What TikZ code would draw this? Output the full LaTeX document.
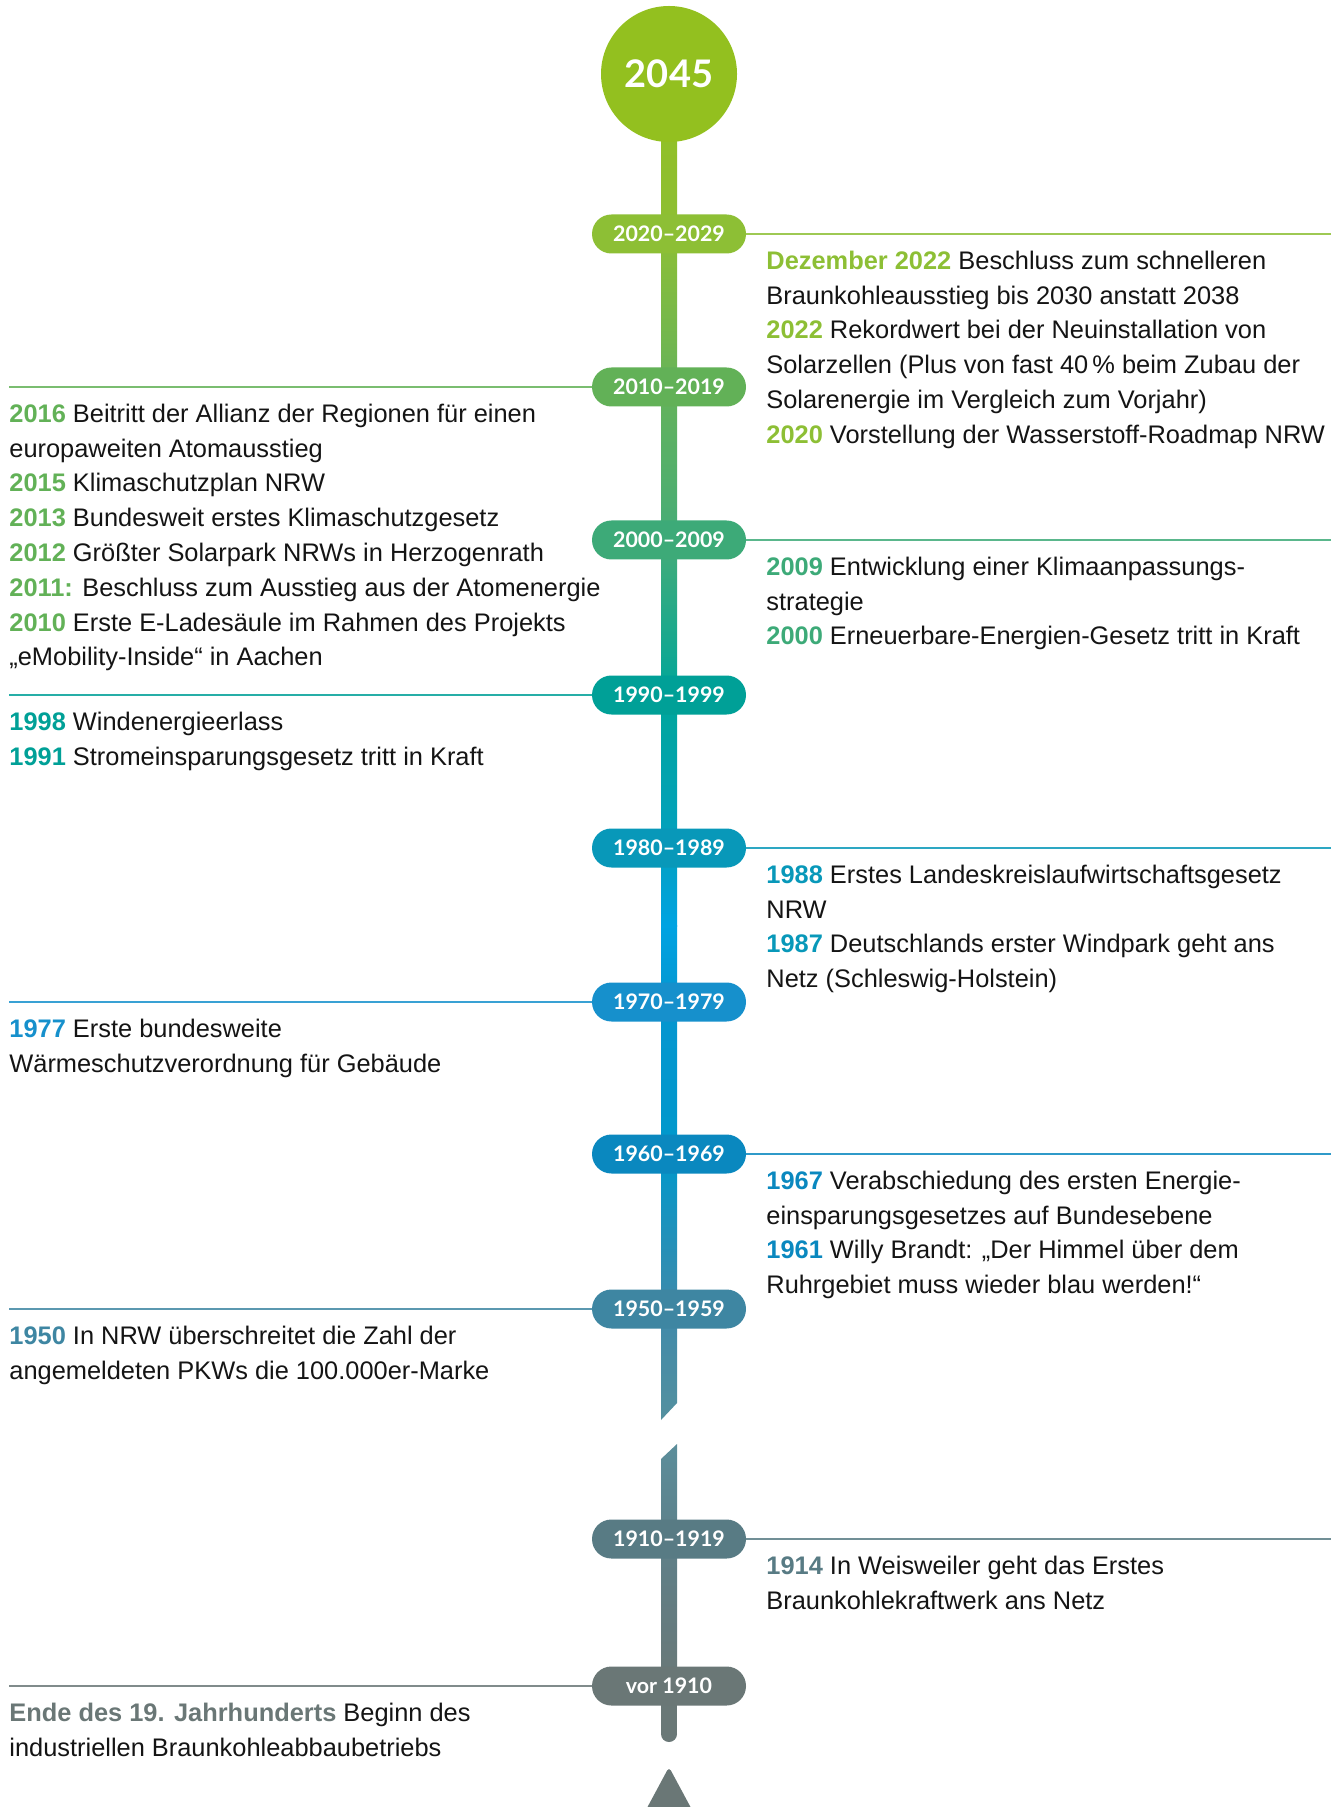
\documentclass[tikz,border=0pt]{standalone}
\usepackage{fontspec}
\setmainfont{Liberation Sans}
\newfontfamily\pillfont{Lato}
\usetikzlibrary{calc}

% decade colours
\definecolor{cA}{HTML}{93C01F}
\definecolor{cB}{HTML}{8DBF35}
\definecolor{cC}{HTML}{62B157}
\definecolor{cD}{HTML}{3DAA78}
\definecolor{cE}{HTML}{00A097}
\definecolor{cF}{HTML}{0898B9}
\definecolor{cG}{HTML}{1690CC}
\definecolor{cH}{HTML}{0A88BF}
\definecolor{cI}{HTML}{3E86A2}
\definecolor{cJ}{HTML}{587B84}
\definecolor{cK}{HTML}{6A7776}
\definecolor{ink}{HTML}{141414}
% stem gradient stops
\definecolor{s0}{HTML}{93C01F}
\definecolor{s1}{HTML}{8DBF35}
\definecolor{s2}{HTML}{66B35A}
\definecolor{s3}{HTML}{45AC78}
\definecolor{s4}{HTML}{00A69A}
\definecolor{s5}{HTML}{03A0C0}
\definecolor{s6}{HTML}{00A3E2}
\definecolor{s7}{HTML}{0596D0}
\definecolor{s8}{HTML}{0098CB}
\definecolor{s9}{HTML}{3F8AAA}
\definecolor{s10}{HTML}{54909F}
\definecolor{s11}{HTML}{5C8E9B}
\definecolor{s12}{HTML}{5E8089}
\definecolor{s13}{HTML}{6A7877}

\newcommand\yr[2]{{\bfseries\color{#1}#2}}

\tikzset{
  pill/.style={fill=#1, rounded corners=9.7pt, minimum width=77pt, minimum height=19.5pt,
    inner sep=0pt, text=white, font=\pillfont\bfseries\fontsize{10.7}{12}\selectfont},
  leader/.style={draw=#1!85, line width=0.75pt},
  entry/.style={anchor=north west, inner sep=0pt, align=left, text=ink,
    font=\fontsize{12.7}{17.4}\selectfont},
}

\begin{document}
\begin{tikzpicture}[x=0.5pt, y=-0.5pt]
  \useasboundingbox (0,0) rectangle (1340,1807);
  \coordinate (leftedge) at (9,0);
  \coordinate (rightedge) at (1331,0);

  %%%%% STEM %%%%%
  \foreach \ya/\yb/\ca/\cb in {74/235/s0/s1, 234/388/s1/s2, 387/541/s2/s3, 540/696/s3/s4,
      695/849/s4/s5, 848/926/s5/s6, 925/1003/s6/s7, 1002/1155/s7/s8, 1154/1310/s8/s9}
    \shade[top color=\ca, bottom color=\cb] (661,\ya) rectangle (677,\yb);
  \shade[top color=s9, bottom color=s10] (661,1309) -- (677,1309) -- (677,1403) -- (661,1420) -- cycle;
  \shade[top color=s11, bottom color=s12] (661,1459) -- (677,1444) -- (677,1540) -- (661,1540) -- cycle;
  \shade[top color=s12, bottom color=s13] (661,1539) rectangle (677,1687);
  \fill[s13] (661,1686) rectangle (677,1734);
  \fill[s13] (669,1734) circle (8);

  % arrow head at the bottom
  \fill[cK, rounded corners=2pt] (669,1767) -- (697.5,1820) -- (640.5,1820) -- cycle;

  %%%%% DECADES %%%%%
  \node[pill=cB] (p2020) at (669,234) {2020–2029};
  \node[pill=cC] (p2010) at (669,387) {2010–2019};
  \node[pill=cD] (p2000) at (669,540) {2000–2009};
  \node[pill=cE] (p1990) at (669,695) {1990–1999};
  \node[pill=cF] (p1980) at (669,848) {1980–1989};
  \node[pill=cG] (p1970) at (669,1002) {1970–1979};
  \node[pill=cH] (p1960) at (669,1154) {1960–1969};
  \node[pill=cI] (p1950) at (669,1309) {1950–1959};
  \node[pill=cJ] (p1910) at (669,1539) {1910–1919};
  \node[pill=cK] (p1900) at (669,1686) {vor 1910};

  \draw[leader=cB] (p2020.east) -- (p2020.east -| rightedge);
  \draw[leader=cC] (p2010.west) -- (p2010.west -| leftedge);
  \draw[leader=cD] (p2000.east) -- (p2000.east -| rightedge);
  \draw[leader=cE] (p1990.west) -- (p1990.west -| leftedge);
  \draw[leader=cF] (p1980.east) -- (p1980.east -| rightedge);
  \draw[leader=cG] (p1970.west) -- (p1970.west -| leftedge);
  \draw[leader=cH] (p1960.east) -- (p1960.east -| rightedge);
  \draw[leader=cI] (p1950.west) -- (p1950.west -| leftedge);
  \draw[leader=cJ] (p1910.east) -- (p1910.east -| rightedge);
  \draw[leader=cK] (p1900.west) -- (p1900.west -| leftedge);

  \node[circle, fill=cA, minimum size=68pt, inner sep=0pt, text=white,
    font=\pillfont\bfseries\fontsize{19}{22}\selectfont] (goal) at (669,74) {2045};

  %%%%% EVENTS %%%%%
  \node[entry] (t2020) at (766,244.6) {\strut\yr{cB}{Dezember 2022} Beschluss zum schnelleren\\
    Braunkohleausstieg bis 2030 anstatt 2038\\
    \yr{cB}{2022} Rekordwert bei der Neuinstallation von\\
    Solarzellen (Plus von fast 40\,\% beim Zubau der\\
    Solarenergie im Vergleich zum Vorjahr)\\
    \yr{cB}{2020} Vorstellung der Wasserstoff-Roadmap NRW};
  \node[entry] (t2010) at (9,397.6) {\strut\yr{cC}{2016} Beitritt der Allianz der Regionen für einen\\
    europaweiten Atomausstieg\\
    \yr{cC}{2015} Klimaschutzplan NRW\\
    \yr{cC}{2013} Bundesweit erstes Klimaschutzgesetz\\
    \yr{cC}{2012} Größter Solarpark NRWs in Herzogenrath\\
    \yr{cC}{2011:} Beschluss zum Ausstieg aus der Atomenergie\\
    \yr{cC}{2010} Erste E-Ladesäule im Rahmen des Projekts\\
    „eMobility-Inside“ in Aachen};
  \node[entry] (t2000) at (766,550.6) {\strut\yr{cD}{2009} Entwicklung einer Klimaanpassungs-\\
    strategie\\
    \yr{cD}{2000} Erneuerbare-Energien-Gesetz tritt in Kraft};
  \node[entry] (t1990) at (9,705.6) {\strut\yr{cE}{1998} Windenergieerlass\\
    \yr{cE}{1991} Stromeinsparungsgesetz tritt in Kraft};
  \node[entry] (t1980) at (766,858.6) {\strut\yr{cF}{1988} Erstes Landeskreislaufwirtschaftsgesetz\\
    NRW\\
    \yr{cF}{1987} Deutschlands erster Windpark geht ans\\
    Netz (Schleswig-Holstein)};
  \node[entry] (t1970) at (9,1012.6) {\strut\yr{cG}{1977} Erste bundesweite\\
    Wärmeschutzverordnung für Gebäude};
  \node[entry] (t1960) at (766,1164.6) {\strut\yr{cH}{1967} Verabschiedung des ersten Energie-\\
    einsparungsgesetzes auf Bundesebene\\
    \yr{cH}{1961} Willy Brandt: „Der Himmel über dem\\
    Ruhrgebiet muss wieder blau werden!“};
  \node[entry] (t1950) at (9,1319.6) {\strut\yr{cI}{1950} In NRW überschreitet die Zahl der\\
    angemeldeten PKWs die 100.000er-Marke};
  \node[entry] (t1910) at (766,1549.6) {\strut\yr{cJ}{1914} In Weisweiler geht das Erstes\\
    Braunkohlekraftwerk ans Netz};
  \node[entry] (t1900) at (9,1696.6) {\strut\yr{cK}{Ende des 19. Jahrhunderts} Beginn des\\
    industriellen Braunkohleabbaubetriebs};
\end{tikzpicture}
\end{document}
